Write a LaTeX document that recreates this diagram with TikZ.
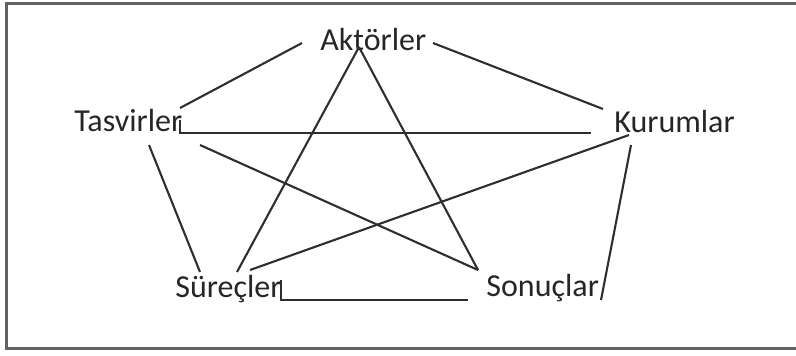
\documentclass[tikz,border=0pt]{standalone}
\usepackage{fontspec}
\setmainfont{Carlito}
\begin{document}
\begin{tikzpicture}[x=0.5pt,y=-0.5pt,
  lbl/.style={font=\fontsize{16}{19}\selectfont, inner sep=0pt, anchor=base west, text=black!85},
  conn/.style={line width=1.05pt, draw=black!82, line join=miter},
  frame/.style={line width=1.5pt, draw=black!62}]
\useasboundingbox (0,0) rectangle (796,355);
\draw[frame] (802,3) -- (6,3) -- (6,348) -- (802,348);

\node[lbl] (akt) at (320,50) {Aktörler};
\node[lbl] (tas) at (74,131) {Tasvirler};
\node[lbl] (kur) at (614,132) {Kurumlar};
\node[lbl] (sur) at (175,297) {Süreçler};
\node[lbl] (son) at (486,296) {Sonuçlar};

\coordinate (a1) at (302,43);
\coordinate (a2) at (433,43);
\coordinate (a3) at (359,47);
\coordinate (t1) at (180,108);
\coordinate (t2) at (180,120);
\coordinate (t3) at (180,133);
\coordinate (t4) at (200,145);
\coordinate (t5) at (149,145);
\coordinate (k1) at (603,109);
\coordinate (k2) at (591,133);
\coordinate (k3) at (629,135);
\coordinate (k4) at (631,145);
\coordinate (s1) at (237,272);
\coordinate (s2) at (200,272);
\coordinate (s3) at (250,270);
\coordinate (s4) at (281,280);
\coordinate (s5) at (281,300);
\coordinate (o1) at (478,270);
\coordinate (o2) at (601,300);
\coordinate (o3) at (468,300);

\draw[conn] (a1) -- (t1);
\draw[conn] (a2) -- (k1);
\draw[conn] (t2) -- (t3) -- (k2);
\draw[conn] (a3) -- (s1);
\draw[conn] (a3) -- (o1);
\draw[conn] (t4) -- (o1);
\draw[conn] (t5) -- (s2);
\draw[conn] (k3) -- (s3);
\draw[conn] (k4) -- (o2);
\draw[conn] (s4) -- (s5) -- (o3);
\end{tikzpicture}
\end{document}
